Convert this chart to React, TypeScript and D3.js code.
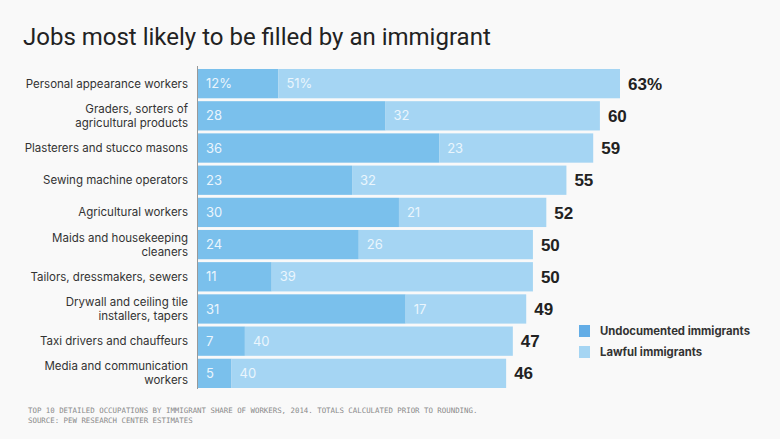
import React from "react";
import * as d3 from "d3";

const categories = [
  ["Personal appearance workers"],
  ["Graders, sorters of", "agricultural products"],
  ["Plasterers and stucco masons"],
  ["Sewing machine operators"],
  ["Agricultural workers"],
  ["Maids and housekeeping", "cleaners"],
  ["Tailors, dressmakers, sewers"],
  ["Drywall and ceiling tile", "installers, tapers"],
  ["Taxi drivers and chauffeurs"],
  ["Media and communication", "workers"],
];
const undocumented = [12, 28, 36, 23, 30, 24, 11, 31, 7, 5];
const lawful = [51, 32, 23, 32, 21, 26, 39, 17, 40, 40];
const totals = [63, 60, 59, 55, 52, 50, 50, 49, 47, 46];
const seriesNames = ["Undocumented immigrants", "Lawful immigrants"];

const W = 780;
const H = 439;
const C_UNDOC = "#7ac0ec";
const C_LAWFUL = "#a5d5f3";
const SANS = "Inter, 'Noto Sans', Arial, sans-serif";

export default function App() {
  const x = d3.scaleLinear().domain([0, 63]).range([198, 620]);
  const idx = categories.map((_, i) => String(i));
  const y = d3.scaleBand().domain(idx).range([69, 388]).paddingInner(0.09).paddingOuter(0);
  const bh = y.bandwidth();

  return (
    <svg width={W} height={H} style={{ position: "absolute", left: 0, top: 0, background: "#f9f9f9" }}>
      <rect x={0} y={0} width={W} height={H} fill="#f9f9f9" />
      <text x={23} y={45} fontFamily="Roboto, Arial, sans-serif" fontSize={24} fill="#222">
        Jobs most likely to be filled by an immigrant
      </text>
      {categories.map((lines, i) => {
        const yc = (y(String(i)) as number) + bh / 2;
        const u = undocumented[i];
        const t = totals[i];
        return (
          <g key={i}>
            <rect x={x(0)} y={y(String(i))} width={x(u) - x(0)} height={bh} fill={C_UNDOC} />
            <rect x={x(u)} y={y(String(i))} width={x(t) - x(u)} height={bh} fill={C_LAWFUL} />
            <text x={x(0) + 8} y={yc} dy="0.35em" fontFamily={SANS} fontSize={13} fill="#eaf5fd">
              {i === 0 ? `${u}%` : u}
            </text>
            <text x={x(u) + 8} y={yc} dy="0.35em" fontFamily={SANS} fontSize={13} fill="#eaf5fd">
              {i === 0 ? `${lawful[i]}%` : lawful[i]}
            </text>
            <text x={x(t) + 8} y={yc} dy="0.36em" fontFamily="'Liberation Sans', Arial, sans-serif" fontSize={17} fontWeight={700} fill="#222">
              {i === 0 ? `${t}%` : t}
            </text>
            {lines.map((ln, j) => (
              <text
                key={j}
                x={188}
                y={yc + (j - (lines.length - 1) / 2) * 14}
                dy="0.35em"
                textAnchor="end"
                fontFamily={SANS}
                fontSize={11.5}
                fill="#333"
              >
                {ln}
              </text>
            ))}
          </g>
        );
      })}
      <line x1={197.5} x2={197.5} y1={66} y2={389} stroke="#999" strokeWidth={1} />
      {seriesNames.map((s, i) => (
        <g key={s}>
          <rect x={579} y={325 + i * 21} width={11} height={12} fill={i === 0 ? "#63ade6" : C_LAWFUL} />
          <text x={600} y={331 + i * 21} dy="0.35em" fontFamily={SANS} fontSize={11.3} fontWeight={700} fill="#333">
            {s}
          </text>
        </g>
      ))}
      <text x={28} y={413} fontFamily="'DejaVu Sans Mono', monospace" fontSize={7.4} fill="#8a8a8a">
        TOP 10 DETAILED OCCUPATIONS BY IMMIGRANT SHARE OF WORKERS, 2014. TOTALS CALCULATED PRIOR TO ROUNDING.
      </text>
      <text x={28} y={423} fontFamily="'DejaVu Sans Mono', monospace" fontSize={7.4} fill="#8a8a8a">
        SOURCE: PEW RESEARCH CENTER ESTIMATES
      </text>
    </svg>
  );
}
